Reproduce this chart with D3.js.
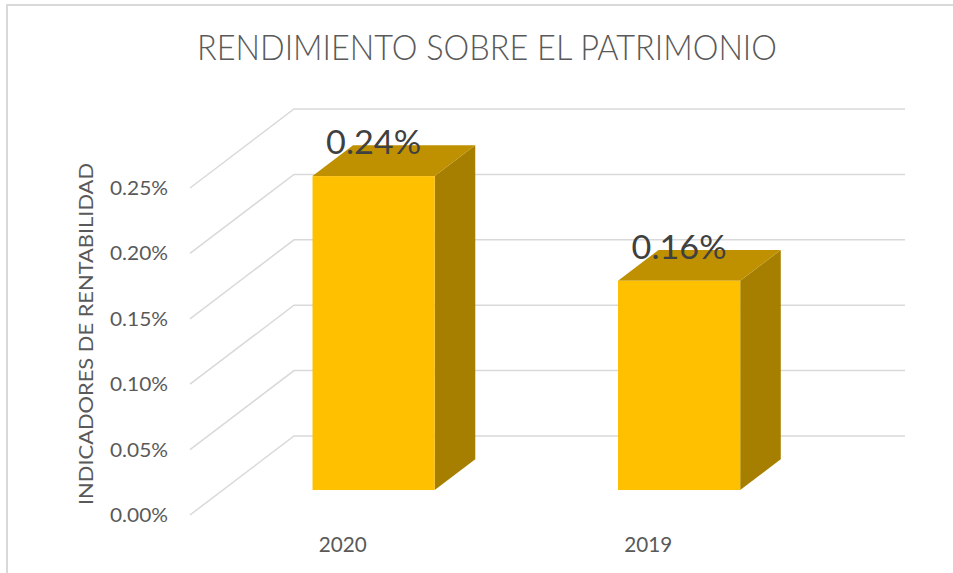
<!DOCTYPE html>
<html>
<head>
<meta charset="utf-8">
<script src="https://cdn.jsdelivr.net/npm/d3@7"></script>
<style>
  html, body { margin: 0; padding: 0; background: #fff; }
  svg { display: block; }
  text { font-family: Lato, "Open Sans", sans-serif; }
</style>
</head>
<body>
<svg id="chart" width="953" height="573"></svg>
<script>
// ---- data ----
const categories = ["2020", "2019"];
const values = [0.0024, 0.0016];
const valueLabels = ["0.24%", "0.16%"];
const tickValues = [0, 0.0005, 0.001, 0.0015, 0.002, 0.0025];
const tickLabels = ["0.00%", "0.05%", "0.10%", "0.15%", "0.20%", "0.25%"];
const title = "RENDIMIENTO SOBRE EL PATRIMONIO";
const yTitle = "INDICADORES DE RENTABILIDAD";

// ---- layout ----
const W = 953, H = 573;
const front = { left: 190, right: 801, bottom: 515, top: 188 };
const depth = { dx: 104, dy: -79 };       // back wall offset
const barDepth = { t0: 0.316, t1: 0.706 }; // bar position within depth
const barFrac = 0.4;

const svg = d3.select("#chart");

// border
svg.append("path")
  .attr("d", `M7,${H} L7,5 L${W},5`)
  .attr("fill", "none").attr("stroke", "#D9D9D9").attr("stroke-width", 2);

const y = d3.scaleLinear().domain([0, 0.0025]).range([front.bottom, front.top]);
const x = d3.scaleBand().domain(categories).range([front.left - 2, front.right - 2]).padding(0);
const dScale = d3.scaleLinear().domain([0, 1]).range([0, 1]);
const off = t => ({ dx: depth.dx * dScale(t), dy: depth.dy * dScale(t) });

// gridlines (side wall + back wall)
const grid = svg.append("g");
tickValues.forEach(v => {
  const yy = y(v);
  grid.append("path")
    .attr("d", `M${front.left},${yy} L${front.left + depth.dx},${yy + depth.dy} L${front.right + depth.dx},${yy + depth.dy}`)
    .attr("fill", "none").attr("stroke", "#D9D9D9").attr("stroke-width", 1.5);
});

// tick labels
svg.append("g").selectAll("text").data(tickValues).join("text")
  .attr("x", 168).attr("y", d => y(d) + 7)
  .attr("text-anchor", "end")
  .attr("font-size", 20).attr("fill", "#595959")
  .attr("textLength", 58).attr("lengthAdjust", "spacingAndGlyphs")
  .text((d, i) => tickLabels[i]);

// bars
const bars = svg.append("g");
categories.forEach((c, i) => {
  const bw = x.bandwidth() * barFrac;
  const fx0 = x(c) + (x.bandwidth() - bw) / 2;
  const a = off(barDepth.t0), b = off(barDepth.t1);
  const x0 = fx0 + a.dx, x1 = x0 + bw;
  const yb = y(0) + a.dy, yt = y(values[i]) + a.dy;
  const ddx = b.dx - a.dx, ddy = b.dy - a.dy;
  // right side
  bars.append("path")
    .attr("d", `M${x1},${yb} L${x1 + ddx},${yb + ddy} L${x1 + ddx},${yt + ddy} L${x1},${yt} Z`)
    .attr("fill", "#A67F00");
  // top
  bars.append("path")
    .attr("d", `M${x0},${yt} L${x0 + ddx},${yt + ddy} L${x1 + ddx},${yt + ddy} L${x1},${yt} Z`)
    .attr("fill", "#BF9000");
  // front
  bars.append("rect")
    .attr("x", x0).attr("y", yt).attr("width", bw).attr("height", yb - yt)
    .attr("fill", "#FFC000");
  // data label
  bars.append("text")
    .attr("x", x0 + bw / 2).attr("y", yt - 22)
    .attr("text-anchor", "middle")
    .attr("font-size", 32).attr("fill", "#404040")
    .attr("textLength", 95).attr("lengthAdjust", "spacingAndGlyphs")
    .text(valueLabels[i]);
});

// category labels
svg.append("g").selectAll("text").data(categories).join("text")
  .attr("x", d => x(d) + x.bandwidth() / 2 + 2)
  .attr("y", 552)
  .attr("text-anchor", "middle")
  .attr("font-size", 22).attr("fill", "#595959")
  .attr("textLength", 48).attr("lengthAdjust", "spacingAndGlyphs")
  .text(d => d);

// title
svg.append("text")
  .attr("x", 487).attr("y", 60)
  .attr("text-anchor", "middle")
  .attr("font-size", 36).attr("font-weight", 300).attr("fill", "#595959")
  .attr("textLength", 580).attr("lengthAdjust", "spacingAndGlyphs")
  .text(title);

// y axis title
svg.append("text")
  .attr("transform", "translate(93,334) rotate(-90)")
  .attr("text-anchor", "middle")
  .attr("font-size", 20).attr("fill", "#595959")
  .attr("textLength", 342).attr("lengthAdjust", "spacingAndGlyphs")
  .text(yTitle);
</script>
</body>
</html>
